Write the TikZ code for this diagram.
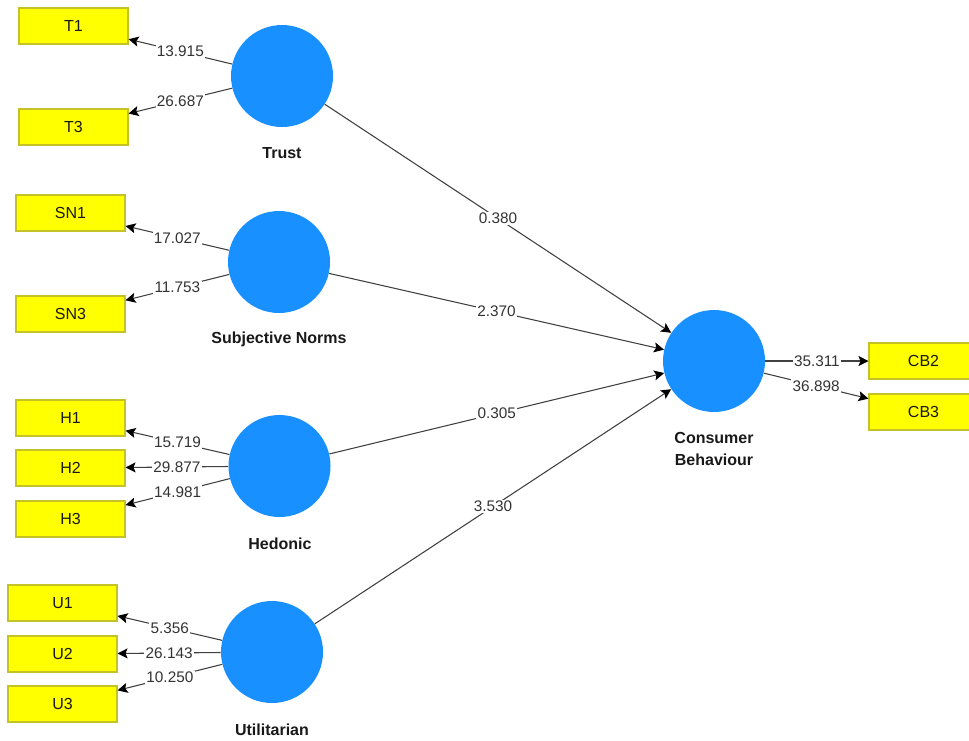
\documentclass[tikz,border=0pt]{standalone}
\usepackage{fontspec}
\setmainfont{Liberation Sans}
\usetikzlibrary{arrows.meta,positioning}
\definecolor{itemfill}{RGB}{255,255,0}
\definecolor{itemline}{RGB}{195,195,40}
\definecolor{latentblue}{RGB}{24,144,255}

\begin{document}
\begin{tikzpicture}[x=0.75pt,y=-0.75pt,
    latent/.style={circle, fill=latentblue, minimum size=76.5pt, inner sep=0pt},
    item/.style={rectangle, draw=itemline, fill=itemfill, line width=0.8pt, minimum width=81.75pt, minimum height=27pt, font=\fontsize{12}{14}\selectfont, text=black!90},
    lvname/.style={font=\bfseries\fontsize{12}{17}\selectfont, align=center, text=black!90},
    load/.style={-{Stealth[length=7.5pt,width=7.5pt,inset=1.5pt,color=black]}, draw=black!75, line width=0.8pt},
    coef/.style={fill=white, inner sep=1pt, font=\fontsize{11.5}{13}\selectfont, text=black!80}]
    \clip (0,0) rectangle (969,740);

    % Latent variables
    \node[latent] (trust) at (282,76) {};
    \node[latent] (subnorm) at (279,262) {};
    \node[latent] (hedonic) at (279.5,466) {};
    \node[latent] (utilit) at (272,652) {};
    \node[latent] (consbeh) at (714,361) {};

    \node[lvname] (trustname) at (282,153) {Trust};
    \node[lvname] (subnormname) at (279,339) {Subjective Norms};
    \node[lvname] (hedonicname) at (280,544) {Hedonic};
    \node[lvname] (utilitname) at (272,730) {Utilitarian};
    \node[lvname] (consbehname) at (714,449) {Consumer\\Behaviour};

    % Indicators
    \node[item] (t1) at (73.5,26) {T1};
    \node[item] (t3) at (73.5,127) {T3};
    \node[item] (sn1) at (70.5,213) {SN1};
    \node[item] (sn3) at (70.5,314) {SN3};
    \node[item] (h1) at (70.5,418) {H1};
    \node[item] (h2) at (70.5,468) {H2};
    \node[item] (h3) at (70.5,519) {H3};
    \node[item] (u1) at (62.5,603) {U1};
    \node[item] (u2) at (62.5,654) {U2};
    \node[item] (u3) at (62.5,704) {U3};
    \node[item] (cb2) at (923.5,361) {CB2};
    \node[item] (cb3) at (923.5,412) {CB3};

    % Outer loadings
    \draw[load] (trust) -- node[coef] {13.915} (t1);
    \draw[load] (trust) -- node[coef] {26.687} (t3);
    \draw[load] (subnorm) -- node[coef] {17.027} (sn1);
    \draw[load] (subnorm) -- node[coef] {11.753} (sn3);
    \draw[load] (hedonic) -- node[coef] {15.719} (h1);
    \draw[load] (hedonic) -- node[coef] {29.877} (h2);
    \draw[load] (hedonic) -- node[coef] {14.981} (h3);
    \draw[load] (utilit) -- node[coef] {5.356} (u1);
    \draw[load] (utilit) -- node[coef] {26.143} (u2);
    \draw[load] (utilit) -- node[coef] {10.250} (u3);
    \draw[load] (consbeh) -- node[coef] {35.311} (cb2);
    \draw[load] (consbeh) -- node[coef] {36.898} (cb3);

    % Path coefficients
    \draw[load] (trust) -- node[coef] {0.380} (consbeh);
    \draw[load] (subnorm) -- node[coef] {2.370} (consbeh);
    \draw[load] (hedonic) -- node[coef] {0.305} (consbeh);
    \draw[load] (utilit) -- node[coef] {3.530} (consbeh);
\end{tikzpicture}
\end{document}
